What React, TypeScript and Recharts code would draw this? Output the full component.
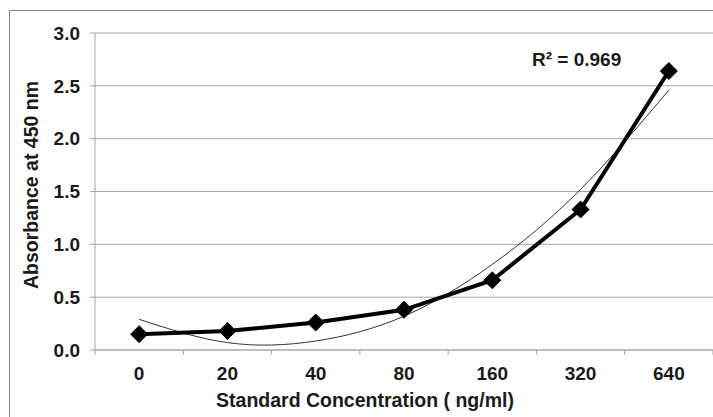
import React from 'react';
import { LineChart, Line, XAxis, YAxis, CartesianGrid, Label } from 'recharts';

const categories = ['0', '20', '40', '80', '160', '320', '640'];
const absorbance = [0.15, 0.18, 0.26, 0.38, 0.66, 1.33, 2.64];
const trendValues = [0.29, 0.07, 0.085, 0.32, 0.81, 1.52, 2.46];
const yTicks = [0, 0.5, 1, 1.5, 2, 2.5, 3];
const rSquaredText = 'R² = 0.969';
const xTitle = 'Standard Concentration ( ng/ml)';
const yTitle = 'Absorbance at 450 nm';

const data = categories.map((c, i) => ({ conc: c, abs: absorbance[i], trend: trendValues[i] }));

const W = 713;
const H = 417;
const X_AXIS_H = 60;
const Y_AXIS_W = 60;
const M = { top: 33, right: 0, left: 35, bottom: 67 - X_AXIS_H };
const plotW = W - M.left - Y_AXIS_W - M.right;
const band = plotW / categories.length;
const FONT = '"Liberation Sans", Arial, sans-serif';
const GRID = '#a6a6a6';
const TEXT = '#1a1a1a';
const TICK_FS = 19;
const TITLE_FS = 19.5;

const XTick = (props: any) => {
  const { x, y, payload, index } = props;
  const half = band / 2;
  return (
    <g>
      <line x1={x - half} x2={x - half} y1={y} y2={y + 5} stroke={GRID} strokeWidth={1} />
      {index === categories.length - 1 && (
        <line x1={x + half} x2={x + half} y1={y} y2={y + 5} stroke={GRID} strokeWidth={1} />
      )}
      <text x={x} y={y + 30} textAnchor="middle" fontFamily={FONT} fontWeight="bold" fontSize={TICK_FS} fill={TEXT}>
        {payload.value}
      </text>
    </g>
  );
};

const Diamond = (props: any) => {
  const { cx, cy, index } = props;
  const r = 8.5;
  return (
    <polygon
      key={`d-${index}`}
      points={`${cx},${cy - r} ${cx + r},${cy} ${cx},${cy + r} ${cx - r},${cy}`}
      fill="#000"
      stroke="#000"
    />
  );
};

export default function App() {
  return (
    <div style={{ position: 'absolute', left: 0, top: 0, width: W, height: H, overflow: 'hidden', background: '#fff' }}>
      <div
        style={{
          position: 'absolute',
          left: 9,
          top: 10,
          width: W,
          height: H,
          borderLeft: '1.5px solid #858585',
          borderTop: '1.5px solid #858585',
        }}
      />
      <LineChart width={W} height={H} data={data} margin={M} style={{ position: 'absolute', left: 0, top: 0 }}>
        <CartesianGrid horizontal vertical={false} stroke={GRID} strokeWidth={1} />
        <XAxis
          dataKey="conc"
          padding={{ left: band / 2, right: band / 2 }}
          axisLine={{ stroke: GRID, strokeWidth: 1 }}
          tickLine={false}
          tickSize={0}
          tickMargin={0}
          tick={<XTick />}
          interval={0}
          height={X_AXIS_H}
        >
          <Label
            content={() => (
              <text x={365} y={407} textAnchor="middle" fontFamily={FONT} fontWeight="bold" fontSize={TITLE_FS} fill={TEXT}>
                {xTitle}
              </text>
            )}
          />
        </XAxis>
        <YAxis
          width={Y_AXIS_W}
          domain={[0, 3]}
          ticks={yTicks}
          interval={0}
          tickFormatter={(v: number) => v.toFixed(1)}
          axisLine={{ stroke: GRID, strokeWidth: 1 }}
          tickLine={{ stroke: GRID, strokeWidth: 1 }}
          tickSize={5}
          tickMargin={10}
          tick={{ fontFamily: FONT, fontWeight: 'bold', fontSize: TICK_FS, fill: TEXT }}
        >
          <Label
            content={() => (
              <text
                x={31}
                y={185}
                transform="rotate(-90 31 185)"
                textAnchor="middle"
                dominantBaseline="central"
                fontFamily={FONT}
                fontWeight="bold"
                fontSize={TITLE_FS}
                fill={TEXT}
              >
                {yTitle}
              </text>
            )}
          />
        </YAxis>
        <Line
          type="natural"
          dataKey="trend"
          stroke="#333"
          strokeWidth={1}
          dot={false}
          activeDot={false}
          isAnimationActive={false}
        />
        <Line
          type="linear"
          dataKey="abs"
          stroke="#000"
          strokeWidth={4}
          dot={<Diamond />}
          activeDot={false}
          isAnimationActive={false}
        />
      </LineChart>
      <div
        style={{
          position: 'absolute',
          left: 532,
          top: 50,
          fontFamily: FONT,
          fontWeight: 'bold',
          fontSize: TICK_FS,
          lineHeight: '19px',
          color: TEXT,
          whiteSpace: 'nowrap',
        }}
      >
        {rSquaredText}
      </div>
    </div>
  );
}
